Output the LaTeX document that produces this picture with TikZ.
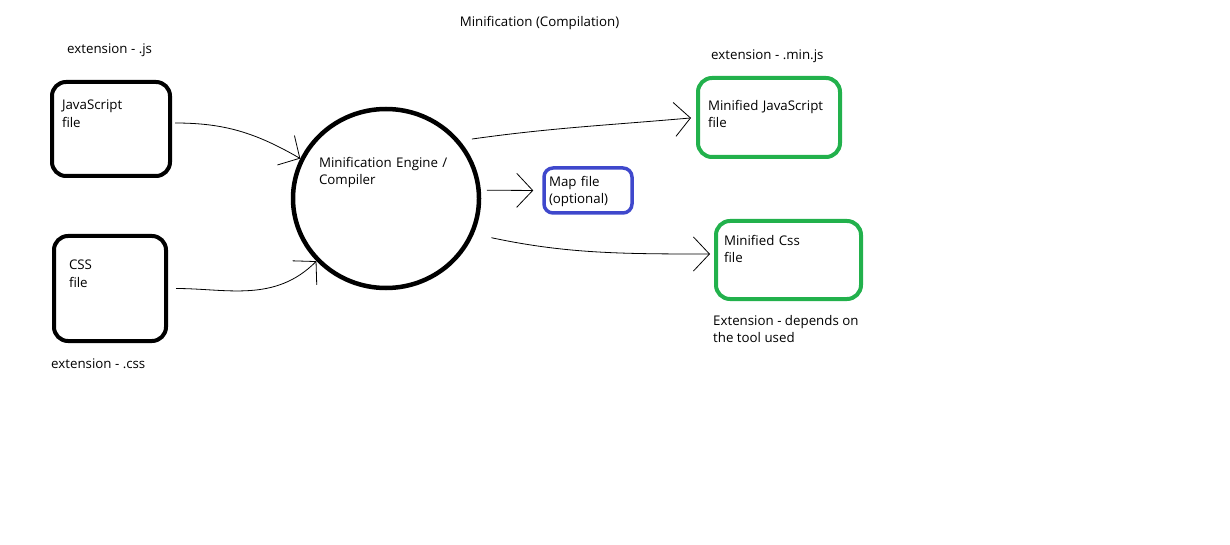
\documentclass[tikz,border=0pt]{standalone}
\usepackage{fontspec}
\setmainfont{Open Sans}
\usetikzlibrary{arrows.meta,shapes.geometric}
\definecolor{paintgreen}{HTML}{22B14C}
\definecolor{paintblue}{HTML}{3F48CC}

\begin{document}
\begin{tikzpicture}[x=1pt, y=-1pt,
		every node/.style={font=\fontsize{13.3}{17.5}\selectfont},
		filebox/.style={rectangle, draw, rounded corners=14pt, line width=4pt, inner sep=0pt, align=left},
		note/.style={inner sep=0pt, anchor=west, align=left},
		conn/.style={line width=0.8pt, -{Straight Barb[length=16pt, width=34pt]}}]
		\useasboundingbox (0,0) rectangle (1230,545);
		\node (title) at (539.5,23) [inner sep=0pt] {Minification (Compilation)};
		\node (ext_js) at (67,50.5) [note] {extension - .js};
		\node (ext_css) at (51,363.5) [note] {extension - .css};
		\node (ext_min) at (711,56.5) [note] {extension - .min.js};
		\node (ext_tool) at (713,329) [note] {Extension - depends on\\the tool used};
		\node (js) at (111,129) [filebox, minimum width=118pt, minimum height=94pt, text width=98pt, text depth=48pt] {JavaScript\\file};
		\node (css) at (110,288.5) [filebox, minimum width=112pt, minimum height=105pt, text width=82pt, text depth=47pt] {CSS\\file};
		\node (engine) at (386,198.5) [ellipse, draw, line width=4.5pt, inner sep=0pt, inner xsep=-2pt, align=left, minimum width=186pt, minimum height=179pt, text width=134pt, text depth=73pt] {Minification Engine /\\Compiler};
		\node (map) at (588,190.5) [filebox, draw=paintblue, rounded corners=9pt, line width=3.5pt, minimum width=88pt, minimum height=45pt, text width=78pt, text depth=19pt] {Map file\\(optional)};
		\node (min_js) at (769,117.5) [filebox, draw=paintgreen, minimum width=142pt, minimum height=79pt, text width=122pt, text depth=25pt] {Minified JavaScript\\file};
		\node (min_css) at (788.5,260) [filebox, draw=paintgreen, minimum width=145pt, minimum height=78pt, text width=129pt, text depth=40pt] {Minified Css\\file};
		
		\draw[conn, shorten <=3pt] ([yshift=6pt]js.east) to[out=0, in=150] (engine.155);
		\draw[conn, shorten <=8pt] (css.east) to[out=0, in=225] (engine.222);
		\draw[conn, shorten <=12pt, shorten >=5pt] (engine.38) to[out=8, in=185] (min_js.west);
		\draw[conn, shorten <=6pt, shorten >=9pt] (engine.5) -- (map.west);
		\draw[conn, shorten <=18pt, shorten >=4pt] (engine.-22) to[out=-12, in=180] ([yshift=6pt]min_css.west);
	\end{tikzpicture}
\end{document}
